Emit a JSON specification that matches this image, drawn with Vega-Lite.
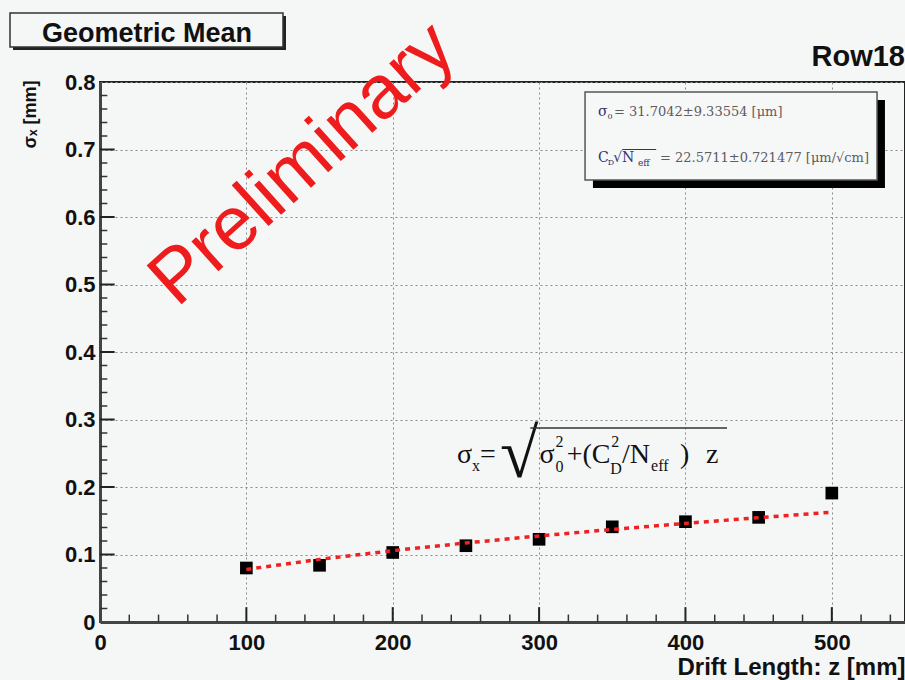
{
  "$schema": "https://vega.github.io/schema/vega-lite/v6.json",
  "width": 805,
  "height": 540,
  "autosize": "none",
  "padding": {"left": 100, "top": 82, "right": 0, "bottom": 58},
  "background": "#f5f7f7",
  "config": {
    "view": {"stroke": "#222", "strokeWidth": 2},
    "axis": {
      "labelFont": "Liberation Sans",
      "labelFontWeight": "bold",
      "labelFontSize": 22,
      "labelColor": "#111",
      "labelFlush": false,
      "titleFont": "Liberation Sans",
      "titleFontWeight": "bold",
      "titleColor": "#111",
      "ticks": false,
      "domainColor": "#444",
      "domainWidth": 3,
      "grid": true,
      "gridColor": "#888",
      "gridDash": [2, 3],
      "gridWidth": 1
    }
  },
  "datasets": {
    "pts": [
      {"z": 100, "sigma": 0.080},
      {"z": 150, "sigma": 0.084},
      {"z": 200, "sigma": 0.103},
      {"z": 250, "sigma": 0.113},
      {"z": 300, "sigma": 0.1225},
      {"z": 350, "sigma": 0.141},
      {"z": 400, "sigma": 0.1486},
      {"z": 450, "sigma": 0.155},
      {"z": 500, "sigma": 0.191}
    ],
    "fit": [
      {"z": 100, "sigma": 0.0779},
      {"z": 150, "sigma": 0.0928},
      {"z": 200, "sigma": 0.1057},
      {"z": 250, "sigma": 0.1171},
      {"z": 300, "sigma": 0.1275},
      {"z": 350, "sigma": 0.1371},
      {"z": 400, "sigma": 0.1461},
      {"z": 450, "sigma": 0.1546},
      {"z": 500, "sigma": 0.1626}
    ],
    "xmaj": [{"v": 100}, {"v": 200}, {"v": 300}, {"v": 400}, {"v": 500}],
    "xmin": [{"v": 20}, {"v": 40}, {"v": 60}, {"v": 80}, {"v": 120}, {"v": 140}, {"v": 160}, {"v": 180}, {"v": 220}, {"v": 240}, {"v": 260}, {"v": 280}, {"v": 320}, {"v": 340}, {"v": 360}, {"v": 380}, {"v": 420}, {"v": 440}, {"v": 460}, {"v": 480}, {"v": 520}, {"v": 540}],
    "ymaj": [{"v": 0.1}, {"v": 0.2}, {"v": 0.3}, {"v": 0.4}, {"v": 0.5}, {"v": 0.6}, {"v": 0.7}],
    "ymin": [{"v": 0.02}, {"v": 0.04}, {"v": 0.06}, {"v": 0.08}, {"v": 0.12}, {"v": 0.14}, {"v": 0.16}, {"v": 0.18}, {"v": 0.22}, {"v": 0.24}, {"v": 0.26}, {"v": 0.28}, {"v": 0.32}, {"v": 0.34}, {"v": 0.36}, {"v": 0.38}, {"v": 0.42}, {"v": 0.44}, {"v": 0.46}, {"v": 0.48}, {"v": 0.52}, {"v": 0.54}, {"v": 0.56}, {"v": 0.58}, {"v": 0.62}, {"v": 0.64}, {"v": 0.66}, {"v": 0.68}, {"v": 0.72}, {"v": 0.74}, {"v": 0.76}, {"v": 0.78}],
    "one": [{}]
  },
  "layer": [
    {
      "data": {"name": "pts"},
      "mark": {"type": "point", "shape": "square", "filled": true, "color": "#000", "size": 160, "opacity": 1},
      "encoding": {
        "x": {
          "field": "z", "type": "quantitative",
          "scale": {"domain": [0, 550], "nice": false, "zero": false},
          "axis": {
            "values": [0, 100, 200, 300, 400, 500],
            "labelPadding": 10,
            "title": "Drift Length: z [mm]",
            "titleFontSize": 24,
            "titleX": 805,
            "titleY": 52,
            "titleAlign": "right",
            "titleAnchor": "end",
            "titleBaseline": "alphabetic"
          }
        },
        "y": {
          "field": "sigma", "type": "quantitative",
          "scale": {"domain": [0, 0.8], "nice": false},
          "axis": {
            "values": [0, 0.1, 0.2, 0.3, 0.4, 0.5, 0.6, 0.7, 0.8],
            "labelExpr": "datum.value == 0 ? '0' : format(datum.value, '.1f')",
            "labelPadding": 5,
            "title": "σₓ [mm]",
            "titleFontSize": 18,
            "titleAngle": -90,
            "titleX": -70,
            "titleY": -2,
            "titleAlign": "right",
            "titleBaseline": "middle"
          }
        }
      }
    },
    {
      "data": {"name": "xmaj"},
      "mark": {"type": "rule", "color": "#222", "strokeWidth": 2},
      "encoding": {"x": {"field": "v", "type": "quantitative"}, "y": {"datum": 0}, "y2": {"datum": 0.022}}
    },
    {
      "data": {"name": "xmin"},
      "mark": {"type": "rule", "color": "#333", "strokeWidth": 1.5},
      "encoding": {"x": {"field": "v", "type": "quantitative"}, "y": {"datum": 0}, "y2": {"datum": 0.011}}
    },
    {
      "data": {"name": "ymaj"},
      "mark": {"type": "rule", "color": "#222", "strokeWidth": 2},
      "encoding": {"y": {"field": "v", "type": "quantitative"}, "x": {"datum": 0}, "x2": {"datum": 10}}
    },
    {
      "data": {"name": "ymin"},
      "mark": {"type": "rule", "color": "#333", "strokeWidth": 1.5},
      "encoding": {"y": {"field": "v", "type": "quantitative"}, "x": {"datum": 0}, "x2": {"datum": 5}}
    },
    {
      "data": {"name": "fit"},
      "mark": {"type": "line", "color": "#ee2222", "strokeWidth": 3.5, "strokeDash": [5, 5]},
      "encoding": {
        "x": {"field": "z", "type": "quantitative"},
        "y": {"field": "sigma", "type": "quantitative"}
      }
    },
    {
      "data": {"name": "one"},
      "mark": {"type": "rect", "color": "#000"},
      "encoding": {
        "x": {"datum": 336.8}, "x2": {"datum": 536.3},
        "y": {"datum": 0.7733}, "y2": {"datum": 0.6430}
      }
    },
    {
      "data": {"name": "one"},
      "mark": {"type": "rect", "fill": "#f6f7f7", "stroke": "#555", "strokeWidth": 1.5},
      "encoding": {
        "x": {"datum": 331.4}, "x2": {"datum": 530.9},
        "y": {"datum": 0.7852}, "y2": {"datum": 0.6548}
      }
    },
    {
      "data": {"name": "one"},
      "mark": {"type": "text", "text": "σ", "font": "DejaVu Serif", "fontSize": 14, "color": "#33336e", "align": "left", "baseline": "middle"},
      "encoding": {"x": {"datum": 340.2}, "y": {"datum": 0.7556}}
    },
    {
      "data": {"name": "one"},
      "mark": {"type": "text", "text": "0", "font": "DejaVu Serif", "fontSize": 8, "color": "#33336e", "align": "left", "baseline": "middle"},
      "encoding": {"x": {"datum": 346.8}, "y": {"datum": 0.7485}}
    },
    {
      "data": {"name": "one"},
      "mark": {"type": "text", "text": "= 31.7042±9.33554 [μm]", "font": "DejaVu Serif", "fontSize": 13, "color": "#5e5a62", "align": "left", "baseline": "middle"},
      "encoding": {"x": {"datum": 351.2}, "y": {"datum": 0.7556}}
    },
    {
      "data": {"name": "one"},
      "mark": {"type": "text", "text": "C", "font": "DejaVu Serif", "fontSize": 14, "color": "#33336e", "align": "left", "baseline": "middle"},
      "encoding": {"x": {"datum": 340.2}, "y": {"datum": 0.6874}}
    },
    {
      "data": {"name": "one"},
      "mark": {"type": "text", "text": "D", "font": "DejaVu Serif", "fontSize": 8, "color": "#33336e", "align": "left", "baseline": "middle"},
      "encoding": {"x": {"datum": 346.9}, "y": {"datum": 0.6795}}
    },
    {
      "data": {"name": "one"},
      "mark": {"type": "text", "text": "√N", "font": "DejaVu Serif", "fontSize": 14, "color": "#33336e", "align": "left", "baseline": "middle"},
      "encoding": {"x": {"datum": 350.6}, "y": {"datum": 0.6874}}
    },
    {
      "data": {"name": "one"},
      "mark": {"type": "text", "text": "eff", "font": "DejaVu Serif", "fontSize": 9, "color": "#33336e", "align": "left", "baseline": "middle"},
      "encoding": {"x": {"datum": 367.5}, "y": {"datum": 0.6795}}
    },
    {
      "data": {"name": "one"},
      "mark": {"type": "rule", "color": "#33336e", "strokeWidth": 1},
      "encoding": {"x": {"datum": 356.8}, "x2": {"datum": 380}, "y": {"datum": 0.7}}
    },
    {
      "data": {"name": "one"},
      "mark": {"type": "text", "text": "= 22.5711±0.721477 [μm/√cm]", "font": "DejaVu Serif", "fontSize": 13, "color": "#5e5a62", "align": "left", "baseline": "middle"},
      "encoding": {"x": {"datum": 382.6}, "y": {"datum": 0.6874}}
    },
    {
      "data": {"name": "one"},
      "mark": {"type": "text", "text": "σ", "font": "Liberation Serif", "fontSize": 28, "color": "#111", "align": "left", "baseline": "alphabetic"},
      "encoding": {"x": {"datum": 243.9}, "y": {"datum": 0.2356}}
    },
    {
      "data": {"name": "one"},
      "mark": {"type": "text", "text": "x", "font": "Liberation Serif", "fontSize": 16, "color": "#111", "align": "left", "baseline": "alphabetic"},
      "encoding": {"x": {"datum": 254.1}, "y": {"datum": 0.2237}}
    },
    {
      "data": {"name": "one"},
      "mark": {"type": "text", "text": "=", "font": "Liberation Serif", "fontSize": 28, "color": "#111", "align": "left", "baseline": "alphabetic"},
      "encoding": {"x": {"datum": 259.6}, "y": {"datum": 0.2356}}
    },
    {
      "data": {"name": "one"},
      "mark": {"type": "text", "text": "√", "font": "Liberation Serif", "fontSize": 70, "color": "#111", "align": "left", "baseline": "alphabetic"},
      "encoding": {"x": {"datum": 273.3}, "y": {"datum": 0.2148}}
    },
    {
      "data": {"name": "one"},
      "mark": {"type": "rule", "color": "#333", "strokeWidth": 1.5},
      "encoding": {"x": {"datum": 294}, "x2": {"datum": 428.4}, "y": {"datum": 0.2874}}
    },
    {
      "data": {"name": "one"},
      "mark": {"type": "text", "text": "σ", "font": "Liberation Serif", "fontSize": 28, "color": "#111", "align": "left", "baseline": "alphabetic"},
      "encoding": {"x": {"datum": 300.3}, "y": {"datum": 0.2356}}
    },
    {
      "data": {"name": "one"},
      "mark": {"type": "text", "text": "2", "font": "Liberation Serif", "fontSize": 16, "color": "#111", "align": "left", "baseline": "alphabetic"},
      "encoding": {"x": {"datum": 311.2}, "y": {"datum": 0.2593}}
    },
    {
      "data": {"name": "one"},
      "mark": {"type": "text", "text": "0", "font": "Liberation Serif", "fontSize": 16, "color": "#111", "align": "left", "baseline": "alphabetic"},
      "encoding": {"x": {"datum": 311.2}, "y": {"datum": 0.2222}}
    },
    {
      "data": {"name": "one"},
      "mark": {"type": "text", "text": "+(C", "font": "Liberation Serif", "fontSize": 28, "color": "#111", "align": "left", "baseline": "alphabetic"},
      "encoding": {"x": {"datum": 318.9}, "y": {"datum": 0.2356}}
    },
    {
      "data": {"name": "one"},
      "mark": {"type": "text", "text": "2", "font": "Liberation Serif", "fontSize": 16, "color": "#111", "align": "left", "baseline": "alphabetic"},
      "encoding": {"x": {"datum": 349.3}, "y": {"datum": 0.2593}}
    },
    {
      "data": {"name": "one"},
      "mark": {"type": "text", "text": "D", "font": "Liberation Serif", "fontSize": 16, "color": "#111", "align": "left", "baseline": "alphabetic"},
      "encoding": {"x": {"datum": 348.6}, "y": {"datum": 0.2193}}
    },
    {
      "data": {"name": "one"},
      "mark": {"type": "text", "text": "/N", "font": "Liberation Serif", "fontSize": 28, "color": "#111", "align": "left", "baseline": "alphabetic"},
      "encoding": {"x": {"datum": 356.7}, "y": {"datum": 0.2356}}
    },
    {
      "data": {"name": "one"},
      "mark": {"type": "text", "text": "eff", "font": "Liberation Serif", "fontSize": 16, "color": "#111", "align": "left", "baseline": "alphabetic"},
      "encoding": {"x": {"datum": 376.5}, "y": {"datum": 0.2237}}
    },
    {
      "data": {"name": "one"},
      "mark": {"type": "text", "text": ")", "font": "Liberation Serif", "fontSize": 28, "color": "#111", "align": "left", "baseline": "alphabetic"},
      "encoding": {"x": {"datum": 396.3}, "y": {"datum": 0.2356}}
    },
    {
      "data": {"name": "one"},
      "mark": {"type": "text", "text": "z", "font": "Liberation Serif", "fontSize": 28, "color": "#111", "align": "left", "baseline": "alphabetic"},
      "encoding": {"x": {"datum": 414.0}, "y": {"datum": 0.2356}}
    },
    {
      "data": {"name": "one"},
      "mark": {"type": "text", "text": "Row18", "font": "Liberation Sans", "fontWeight": "bold", "fontSize": 29, "color": "#111", "align": "right", "baseline": "middle"},
      "encoding": {"x": {"datum": 550}, "y": {"datum": 0.8370}}
    },
    {
      "data": {"name": "one"},
      "mark": {"type": "rect", "color": "#222"},
      "encoding": {
        "x": {"datum": -59.44}, "x2": {"datum": 127.08},
        "y": {"datum": 0.8978}, "y2": {"datum": 0.8474}
      }
    },
    {
      "data": {"name": "one"},
      "mark": {"type": "rect", "fill": "#f5f7f7", "stroke": "#333", "strokeWidth": 1.5},
      "encoding": {
        "x": {"datum": -61.49}, "x2": {"datum": 125.03},
        "y": {"datum": 0.9022}, "y2": {"datum": 0.8519}
      }
    },
    {
      "data": {"name": "one"},
      "mark": {"type": "text", "text": "Geometric Mean", "font": "Liberation Sans", "fontWeight": "bold", "fontSize": 27, "color": "#111", "align": "center", "baseline": "middle"},
      "encoding": {"x": {"datum": 32.1}, "y": {"datum": 0.8711}}
    },
    {
      "data": {"name": "one"},
      "mark": {"type": "text", "text": "Preliminary", "font": "Liberation Sans", "fontSize": 76, "color": "#ee1c1c", "angle": -42, "align": "center", "baseline": "middle"},
      "encoding": {"x": {"datum": 138.5}, "y": {"datum": 0.678}}
    }
  ]
}
